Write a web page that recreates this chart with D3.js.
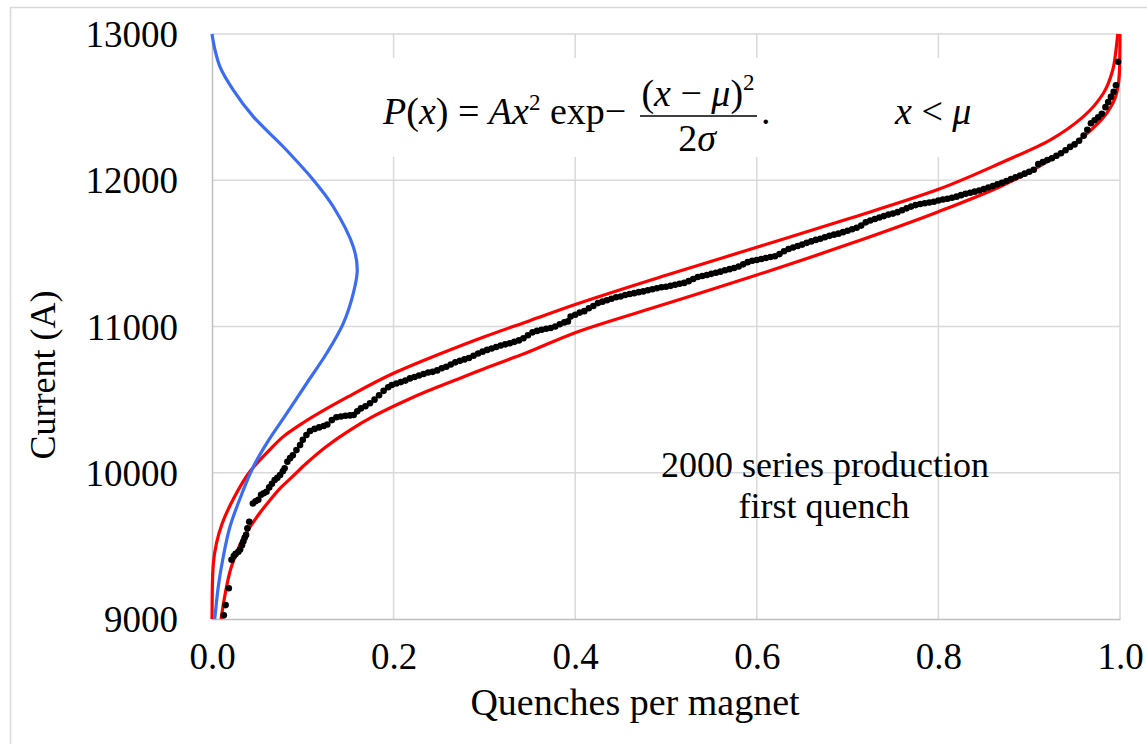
<!DOCTYPE html>
<html>
<head>
<meta charset="utf-8">
<script src="https://cdn.jsdelivr.net/npm/d3@7"></script>
<style>
  body { margin: 0; background: #fff; }
</style>
</head>
<body>
<div id="chart"></div>
<script>
var serif = "'Liberation Serif'";

// tick labels
var xTicks = [0, 0.2, 0.4, 0.6, 0.8, 1.0];
var yTicks = [9000, 10000, 11000, 12000, 13000];

// fitted distribution (blue), [quenches per magnet, current]
var fitCurve = [[0.000,13000],[0.0033,12891],[0.0088,12776],[0.0235,12617],[0.0455,12435],[0.0785,12229],
  [0.1116,12002],[0.1336,11819],[0.1556,11546],[0.160,11386],[0.1556,11227],[0.1446,11022],[0.1263,10817],
  [0.1043,10612],[0.0823,10406],[0.0602,10201],[0.0455,10041],[0.0345,9882],[0.0198,9631],[0.0124,9426],
  [0.0069,9221],[0.0033,9016],[0.003,9000]];

// upper / lower bounds (red)
var upperBound = [[0.000,9000],[0.0003,9200],[0.0015,9380],[0.005,9520],[0.011,9650],[0.0235,9820],[0.042,10010],
  [0.064,10160],[0.0785,10247],[0.10,10340],[0.15,10520],[0.20,10680],[0.25,10810],[0.30,10930],[0.35,11040],
  [0.40,11150],[0.50,11350],[0.60,11542],[0.70,11735],[0.80,11938],[0.8678,12116],[0.9229,12275],[0.9596,12435],
  [0.9817,12595],[0.992,12754],[0.9956,12891],[0.9975,13000]];
var lowerBound = [[0.010,9000],[0.0125,9100],[0.016,9220],[0.021,9350],[0.027,9450],[0.034,9550],[0.042,9630],
  [0.052,9720],[0.064,9814],[0.076,9900],[0.088,9970],[0.104,10065],[0.126,10180],[0.152,10292],[0.176,10380],
  [0.207,10475],[0.238,10560],[0.268,10634],[0.303,10720],[0.345,10817],[0.40,10958],[0.50,11155],[0.60,11352],
  [0.70,11560],[0.80,11785],[0.8678,11956],[0.9229,12138],[0.9596,12298],[0.9853,12458],[0.9963,12595],
  [0.9995,12754],[1.0,13000]];

// measured first quenches (black dots)
var firstQuench = [[0.013,9025],[0.015,9095],[0.0185,9210],[0.0215,9405],[0.024,9430],[0.026,9445],[0.029,9460],
  [0.031,9475],[0.033,9505],[0.0345,9530],[0.036,9555],[0.0375,9575],[0.039,9620],[0.041,9665],[0.045,9790],
  [0.048,9805],[0.051,9815],[0.054,9850],[0.057,9860],[0.060,9870],[0.063,9900],[0.066,9925],[0.069,9950],
  [0.072,9965],[0.075,9985],[0.078,10010],[0.080,10030],[0.083,10075],[0.086,10100],[0.089,10120],[0.093,10155],
  [0.097,10190],[0.100,10225],[0.104,10258],[0.108,10285],[0.113,10300],[0.118,10310],[0.123,10320],[0.127,10330],
  [0.132,10360],[0.137,10380],[0.142,10385],[0.147,10390],[0.152,10392],[0.156,10395],[0.160,10420],[0.164,10440],
  [0.169,10455],[0.174,10475],[0.179,10500],[0.184,10530],[0.189,10560],[0.194,10585],[0.198,10600],[0.203,10610],
  [0.208,10620],[0.213,10630],[0.218,10645],[0.223,10655],[0.228,10665],[0.233,10675],[0.238,10685],[0.243,10690],
  [0.248,10700],[0.253,10715],[0.258,10725],[0.263,10740],[0.268,10755],[0.273,10765],[0.278,10775],[0.283,10785],
  [0.288,10800],[0.293,10815],[0.298,10828],[0.303,10840],[0.308,10850],[0.313,10860],[0.318,10870],[0.323,10878],
  [0.328,10885],[0.333,10895],[0.338,10905],[0.343,10920],[0.348,10940],[0.353,10960],[0.358,10970],[0.363,10978],
  [0.368,10985],[0.373,10990],[0.378,11000],[0.383,11015],[0.388,11028],[0.392,11035],[0.395,11068],[0.400,11080],
  [0.405,11095],[0.410,11105],[0.415,11125],[0.420,11140],[0.425,11160],[0.430,11170],[0.435,11180],[0.440,11190],
  [0.445,11200],[0.450,11205],[0.455,11215],[0.460,11222],[0.465,11228],[0.470,11235],[0.475,11240],[0.480,11248],
  [0.485,11255],[0.490,11262],[0.495,11268],[0.500,11272],[0.505,11278],[0.510,11285],[0.515,11292],[0.520,11298],
  [0.525,11310],[0.530,11325],[0.535,11338],[0.540,11345],[0.545,11352],[0.550,11360],[0.555,11368],[0.560,11375],
  [0.565,11385],[0.570,11392],[0.575,11400],[0.580,11410],[0.585,11425],[0.590,11440],[0.595,11450],[0.600,11455],
  [0.605,11462],[0.610,11468],[0.615,11475],[0.620,11480],[0.625,11495],[0.630,11515],[0.635,11530],[0.640,11540],
  [0.645,11550],[0.650,11560],[0.655,11572],[0.660,11582],[0.665,11592],[0.670,11600],[0.675,11610],[0.680,11620],
  [0.685,11628],[0.690,11635],[0.695,11645],[0.700,11655],[0.705,11665],[0.710,11675],[0.715,11690],[0.720,11712],
  [0.725,11725],[0.730,11735],[0.735,11745],[0.740,11755],[0.745,11765],[0.750,11772],[0.755,11782],[0.760,11795],
  [0.765,11808],[0.770,11820],[0.775,11830],[0.780,11838],[0.785,11843],[0.790,11848],[0.795,11853],[0.800,11862],
  [0.805,11868],[0.810,11874],[0.815,11880],[0.820,11888],[0.825,11898],[0.830,11908],[0.835,11915],[0.840,11922],
  [0.845,11930],[0.850,11940],[0.855,11950],[0.860,11960],[0.865,11972],[0.870,11982],[0.875,11995],[0.880,12008],
  [0.885,12020],[0.890,12032],[0.895,12045],[0.900,12058],[0.905,12072],[0.910,12110],[0.915,12125],[0.920,12138],
  [0.925,12150],[0.930,12168],[0.935,12185],[0.940,12205],[0.945,12228],[0.950,12245],[0.955,12270],[0.960,12305],
  [0.964,12345],[0.968,12390],[0.972,12410],[0.976,12430],[0.980,12455],[0.984,12500],[0.987,12535],[0.990,12570],
  [0.993,12605],[0.9955,12650],[0.998,12810]];

var W = 1147, H = 744;
var margin = {top: 34, right: 27, bottom: 125, left: 212};
var width = W - margin.left - margin.right;
var height = H - margin.top - margin.bottom;

var svg = d3.select("#chart").append("svg")
    .attr("width", W)
    .attr("height", H);

// outer frame
svg.append("rect")
    .attr("x", 10.5).attr("y", 7.5)
    .attr("width", 1200).attr("height", 800)
    .attr("fill", "none")
    .attr("stroke", "#d9d9d9")
    .attr("stroke-width", 1.5);

var g = svg.append("g")
    .attr("transform", `translate(${margin.left},${margin.top})`);

var x = d3.scaleLinear().domain([0, 1]).range([0, width]);
var y = d3.scaleLinear().domain([9000, 13000]).range([height, 0]);

// grid
g.append("g").selectAll("line")
    .data(yTicks.slice(1))
    .enter().append("line")
    .attr("x1", 0).attr("x2", width)
    .attr("y1", d => y(d)).attr("y2", d => y(d))
    .attr("stroke", "#d9d9d9").attr("stroke-width", 1.5);
g.append("g").selectAll("line")
    .data(xTicks.slice(1))
    .enter().append("line")
    .attr("x1", d => x(d)).attr("x2", d => x(d))
    .attr("y1", 0).attr("y2", height)
    .attr("stroke", "#d9d9d9").attr("stroke-width", 1.5);

// white box behind the formula hides the grid there
g.append("rect")
    .attr("x", 365 - margin.left).attr("y", 58 - margin.top)
    .attr("width", 630).attr("height", 99)
    .attr("fill", "#fff");

// axes
var xAxis = d3.axisBottom(x).tickValues(xTicks).tickSize(0).tickPadding(0).tickFormat(d3.format(".1f"));
var yAxis = d3.axisLeft(y).tickValues(yTicks).tickSize(0).tickPadding(0).tickFormat(d3.format("d"));

var xg = g.append("g").attr("transform", `translate(0,${height})`).call(xAxis);
xg.select(".domain").attr("stroke", "#bfbfbf").attr("stroke-width", 1.5);
xg.selectAll("text").attr("y", 50).attr("dy", 0)
    .style("font-family", serif).style("font-size", "37px").attr("fill", "#000");

var yg = g.append("g").call(yAxis);
yg.select(".domain").attr("stroke", "#bfbfbf").attr("stroke-width", 1.5);
yg.selectAll("text").attr("x", -34).attr("dy", "0.34em")
    .style("font-family", serif).style("font-size", "37px").attr("fill", "#000");

// curves
var smooth = d3.line()
    .x(d => x(d[0]))
    .y(d => y(d[1]))
    .curve(d3.curveMonotoneY);
var bell = d3.line()
    .x(d => x(d[0]))
    .y(d => y(d[1]))
    .curve(d3.curveCatmullRom.alpha(0.5));

g.append("path").datum(upperBound)
    .attr("d", smooth).attr("fill", "none")
    .attr("stroke", "#ff0000").attr("stroke-width", 3.2);
g.append("path").datum(lowerBound)
    .attr("d", smooth).attr("fill", "none")
    .attr("stroke", "#ff0000").attr("stroke-width", 3.2);
g.append("path").datum(fitCurve)
    .attr("d", bell).attr("fill", "none")
    .attr("stroke", "#3c6cf2").attr("stroke-width", 3.2);

g.selectAll(".dot")
    .data(firstQuench)
    .enter().append("circle")
    .attr("class", "dot")
    .attr("cx", d => x(d[0]))
    .attr("cy", d => y(d[1]))
    .attr("r", 3.3)
    .attr("fill", "#000");

// axis titles
svg.append("text")
    .attr("transform", "translate(55,375) rotate(-90)")
    .style("font-family", serif)
    .style("text-anchor", "middle")
    .style("font-size", "36px")
    .text("Current (A)");
svg.append("text")
    .attr("x", 635).attr("y", 715)
    .style("font-family", serif)
    .style("text-anchor", "middle")
    .style("font-size", "38px")
    .text("Quenches per magnet");

// annotation, two lines
svg.append("text")
    .attr("x", 825).attr("y", 477)
    .style("font-family", serif)
    .style("text-anchor", "middle")
    .style("font-size", "36px")
    .text("2000 series production");
svg.append("text")
    .attr("x", 824).attr("y", 518)
    .style("font-family", serif)
    .style("text-anchor", "middle")
    .style("font-size", "36px")
    .text("first quench");

// formula
var fs = 38;
var f = svg.append("text").attr("x", 383).attr("y", 124)
    .style("font-family", serif).style("font-size", fs + "px");
f.append("tspan").style("font-style", "italic").text("P");
f.append("tspan").text("(");
f.append("tspan").style("font-style", "italic").text("x");
f.append("tspan").text(") = ");
f.append("tspan").style("font-style", "italic").text("Ax");
f.append("tspan").attr("dy", -14).style("font-size", "23px").text("2");
f.append("tspan").attr("dy", 14).text(" exp\u2212");

var num = svg.append("text").attr("x", 698).attr("y", 106)
    .style("font-family", serif).style("text-anchor", "middle").style("font-size", fs + "px");
num.append("tspan").text("(");
num.append("tspan").style("font-style", "italic").text("x");
num.append("tspan").text(" \u2212 ");
num.append("tspan").style("font-style", "italic").text("\u03bc");
num.append("tspan").text(")");
num.append("tspan").attr("dy", -16).style("font-size", "23px").text("2");

svg.append("line")
    .attr("x1", 640).attr("x2", 757)
    .attr("y1", 116).attr("y2", 116)
    .attr("stroke", "#000").attr("stroke-width", 1.5);

var den = svg.append("text").attr("x", 697).attr("y", 151)
    .style("font-family", serif).style("text-anchor", "middle").style("font-size", fs + "px");
den.append("tspan").text("2");
den.append("tspan").style("font-style", "italic").text("\u03c3");

svg.append("text").attr("x", 761).attr("y", 124)
    .style("font-family", serif).style("font-size", fs + "px").text(".");

var cond = svg.append("text").attr("x", 895).attr("y", 124)
    .style("font-family", serif).style("font-size", fs + "px");
cond.append("tspan").style("font-style", "italic").text("x");
cond.append("tspan").text(" < ");
cond.append("tspan").style("font-style", "italic").text("\u03bc");
</script>
</body>
</html>
